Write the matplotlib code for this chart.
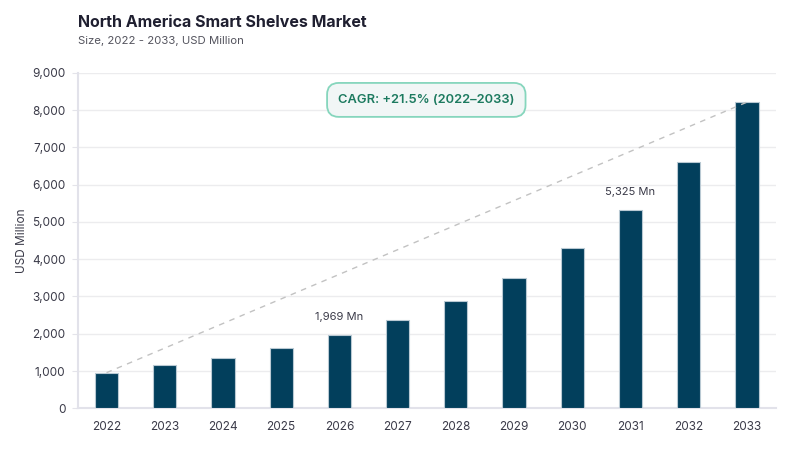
import matplotlib
matplotlib.use("Agg")
import matplotlib.pyplot as plt
from matplotlib.ticker import FuncFormatter

years = ["2022", "2023", "2024", "2025", "2026", "2027", "2028", "2029", "2030", "2031", "2032", "2033"]
values = [955, 1150, 1360, 1630, 1969, 2365, 2870, 3505, 4305, 5325, 6595, 8210]
labeled_idx = [4, 9]
cagr_text = "CAGR: +21.5% (2022–2033)"
title = "North America Smart Shelves Market"
subtitle = "Size, 2022 - 2033, USD Million"
ylabel = "USD Million"

plt.rcParams['font.family'] = ['Inter', 'DejaVu Sans']

fig = plt.figure(figsize=(8, 4.5), dpi=100)
ax = fig.add_axes([0.0975, 0.0927, 0.8725, 0.7457])

x = list(range(len(years)))
ax.bar(x, values, width=0.4, color='#023f5c', edgecolor='#b9c9d3', linewidth=0.8, zorder=3)

ax.plot([x[0], x[-1]], [values[0], values[-1]], linestyle=(0, (4, 4)), color='#c2c2c2', linewidth=1, zorder=4)

for i in labeled_idx:
    ax.annotate(f"{values[i]:,} Mn", (x[i], values[i]), xytext=(0, 9), textcoords='offset points',
                ha='center', va='bottom', fontsize=8, color='#3a3a48')

ax.text(0.499, 0.919, cagr_text, transform=ax.transAxes, ha='center', va='center', fontsize=9.3,
        fontweight='semibold', color='#1c7a5f', zorder=5,
        bbox=dict(boxstyle='round,pad=0.85,rounding_size=0.9', facecolor='#f1f6f6', edgecolor='#86d6bd', linewidth=1.3))

ax.set_xlim(-0.49, 11.5)
ax.set_ylim(0, 9000)
ax.set_yticks(range(0, 9001, 1000))
ax.yaxis.set_major_formatter(FuncFormatter(lambda v, p: f"{int(v):,}"))
ax.set_xticks(x)
ax.set_xticklabels(years)
ax.tick_params(axis='x', length=0, pad=9, labelsize=8.5, labelcolor='#3a3a48')
ax.tick_params(axis='y', length=4, width=0.8, color='#e4e4ea', pad=5, labelsize=8.5, labelcolor='#3a3a48')
ax.grid(axis='y', color='#ececee', linewidth=1, zorder=0)
for s in ['top', 'right']:
    ax.spines[s].set_visible(False)
ax.spines['left'].set_color('#e2e2ea')
ax.spines['left'].set_linewidth(1.5)
ax.spines['bottom'].set_color('#e2e2ea')
ax.spines['bottom'].set_linewidth(1.5)
ax.set_ylabel(ylabel, fontsize=8.5, color='#3a3a48', labelpad=3)

fig.text(0.0975, 0.951, title, ha='left', va='center', fontsize=11.5, fontweight='bold', color='#1f1f30')
fig.text(0.0975, 0.909, subtitle, ha='left', va='center', fontsize=8.2, color='#55555f')

fig.savefig("out.png", dpi=100)
